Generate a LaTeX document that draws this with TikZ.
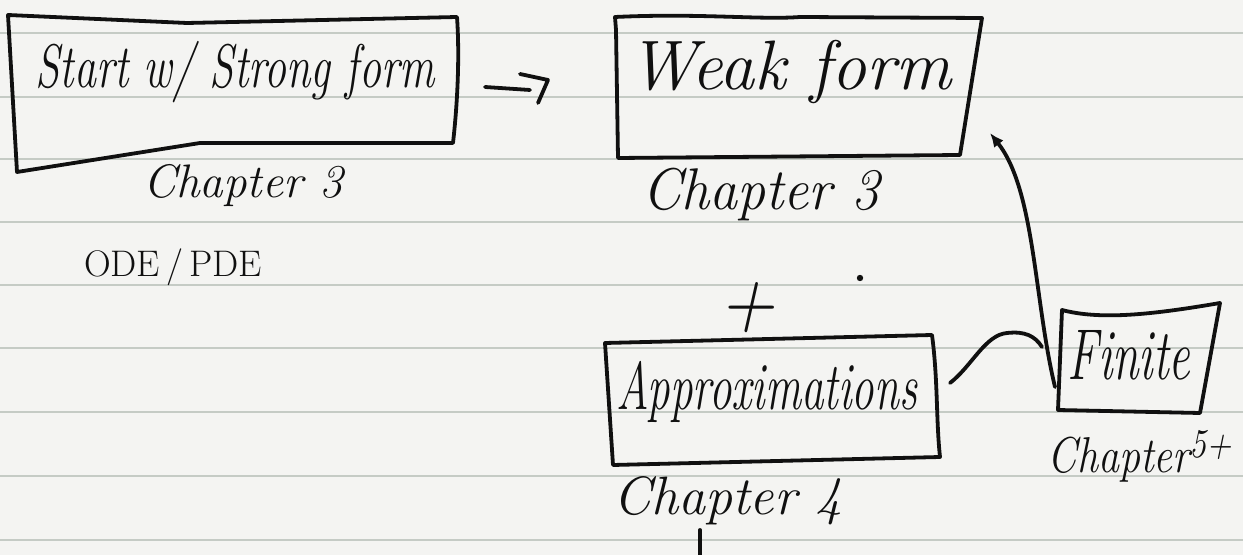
\documentclass[tikz,border=0pt]{standalone}
\usepackage{graphicx}
\usetikzlibrary{arrows.meta}
\definecolor{paper}{HTML}{F4F4F2}
\definecolor{rulecol}{HTML}{C5CBC5}
\definecolor{inkcol}{HTML}{101010}
\tikzset{
  ink/.style={draw=inkcol, line width=1.9pt, line cap=round, line join=round},
  rulingline/.style={draw=rulecol, line width=1.1pt},
  hand/.style={font=\fontsize{#1}{#1}\selectfont\itshape, text=inkcol, inner sep=0pt, anchor=base},
  print/.style={font=\fontsize{#1}{#1}\selectfont, text=inkcol, inner sep=0pt, anchor=base},
}
\begin{document}
\begin{tikzpicture}[x=0.5pt,y=-0.5pt]
  % notebook page
  \fill[paper] (0,0) rectangle (1243,555);
  \useasboundingbox (0,0) rectangle (1243,555);
  \foreach \yy in {33,97,159,222,285,348,412,476,540}
    \draw[rulingline] (0,\yy) -- (1243,\yy);

  % box corners
  \coordinate (s1) at (8,15);    \coordinate (s2) at (457,17);
  \coordinate (s3) at (453,143); \coordinate (s4) at (17,172);
  \coordinate (w1) at (615,17);  \coordinate (w2) at (982,18);
  \coordinate (w3) at (960,155); \coordinate (w4) at (618,158);
  \coordinate (a1) at (605,343); \coordinate (a2) at (932,335);
  \coordinate (a3) at (940,457); \coordinate (a4) at (613,465);
  \coordinate (f1) at (1062,310); \coordinate (f2) at (1220,303);
  \coordinate (f3) at (1200,413); \coordinate (f4) at (1058,410);

  % hand-drawn boxes
  \draw[ink] (s1) -- (187,23) -- (233,22) -- (s2)
             .. controls (459,45) and (459,90) .. (s3)
             -- (200,143) -- (s4) -- cycle;
  \draw[ink] (w1) .. controls (700,13) and (760,20) .. (800,17) -- (w2)
             -- (w3) -- (w4) -- (616,30) -- cycle;
  \draw[ink] (a1) -- (a2) .. controls (938,380) and (936,420) .. (a3) -- (a4) -- cycle;
  \draw[ink] (f1) .. controls (1100,320) and (1150,315) .. (f2) -- (f3) -- (f4) -- cycle;

  % labels
  \node[hand=22] (strong) at (235,88) {\scalebox{1}[1.4]{Start w/ Strong form}};
  \node[hand=23.5] (ch3a) at (243,198) {Chapter 3};
  \node[print=18.5] (ode) at (173,277) {ODE\,/\,PDE};
  \node[hand=35] (weak) at (790,90) {Weak form};
  \node[hand=28] (ch3b) at (761,210) {\scalebox{1}[1.05]{Chapter 3}};
  \node[hand=38] (plus) at (747,329) {\scalebox{1}[1.1]{+}};
  \node[hand=22.5] (approx) at (767,410) {\scalebox{1}[1.5]{Approximations}};
  \node[hand=27] (ch4) at (728,515) {Chapter 4};
  \node[hand=24] (finite) at (1129,380) {\scalebox{1}[1.5]{Finite}};
  \node[hand=21] (ch5) at (1140,473) {\scalebox{1}[1.2]{Chapter\raisebox{0.3em}{\fontsize{17}{17}\selectfont 5+}}};

  % stray pen dot and trailing stroke
  \fill[inkcol] (860,278) circle (3.2);
  \draw[ink] (700,530) -- (700,555);

  % arrow between the first two boxes, with its hooked head
  \coordinate (arrL) at (485,87);
  \coordinate (arrR) at (530,90);
  \draw[ink] (arrL) -- (arrR);
  \draw[ink] (520,74) -- (548,80) -- (538,103);

  % curved links from the lower boxes back up to the weak form
  \coordinate (fin) at (1055,387);
  \coordinate (join) at (1042,347);
  \coordinate (apx) at (950,383);
  \coordinate (tip) at (990,133);
  \draw[ink, -{Latex[length=7pt,width=6pt]}] (fin) .. controls (1034,300) and (1035,190) .. (tip);
  \draw[ink] (apx) .. controls (972,366) and (985,335) .. (1007,333)
             .. controls (1025,331) and (1035,336) .. (join);
\end{tikzpicture}
\end{document}
